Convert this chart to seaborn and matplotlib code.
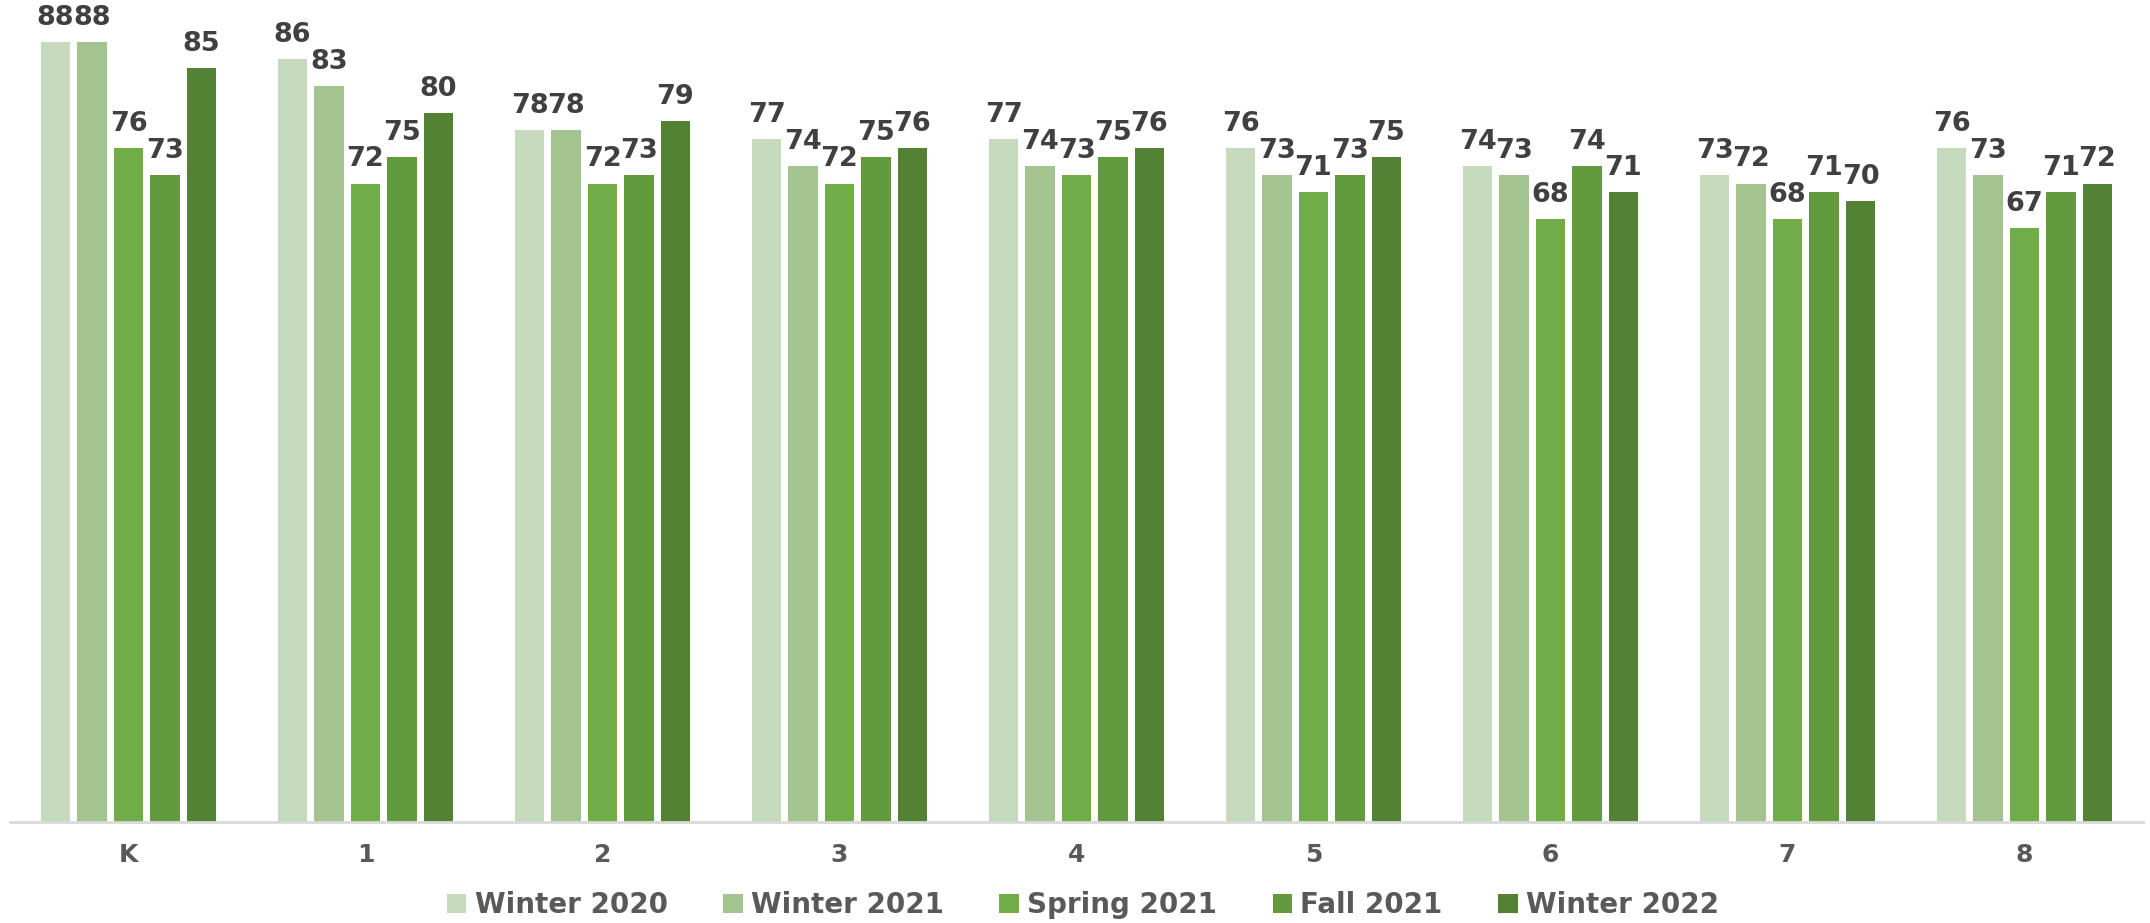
import matplotlib
matplotlib.use("Agg")
import matplotlib.pyplot as plt
import seaborn as sns
import pandas as pd

grades = ["K", "1", "2", "3", "4", "5", "6", "7", "8"]
seasons = ["Winter 2020", "Winter 2021", "Spring 2021", "Fall 2021", "Winter 2022"]

winter_2020 = [88, 86, 78, 77, 77, 76, 74, 73, 76]
winter_2021 = [88, 83, 78, 74, 74, 73, 73, 72, 73]
spring_2021 = [76, 72, 72, 72, 73, 71, 68, 68, 67]
fall_2021 = [73, 75, 73, 75, 75, 73, 74, 71, 71]
winter_2022 = [85, 80, 79, 76, 76, 75, 71, 70, 72]

palette = ["#C5D9BC", "#A3C48F", "#70AD47", "#629A3E", "#548235"]

series = [winter_2020, winter_2021, spring_2021, fall_2021, winter_2022]
rows = []
for season, vals in zip(seasons, series):
    for g, v in zip(grades, vals):
        rows.append({"Grade": g, "Season": season, "Score": v})
df = pd.DataFrame(rows)

sns.set_theme(style="white")
plt.rcParams["font.family"] = ["DejaVu Sans"]

fig = plt.figure(figsize=(21.5, 9.23), dpi=100)
ax = fig.add_axes([10 / 2150, 1 - 822 / 923, 2133 / 2150, 822 / 923])

sns.barplot(data=df, x="Grade", y="Score", hue="Season", hue_order=seasons,
            order=grades, palette=palette, width=0.77, gap=0.2,
            linewidth=0, saturation=1, ax=ax, legend=True)

for container in ax.containers:
    ax.bar_label(container, labels=[f"{v:.0f}" for v in container.datavalues],
                 padding=8, fontsize=19.5, fontweight="bold", color="#404040")

ax.set_xlim(-0.5, 8.5)
ax.set_ylim(0, 92.7)
ax.set_xlabel("")
ax.set_ylabel("")
ax.set_yticks([])
for side in ["top", "right", "left"]:
    ax.spines[side].set_visible(False)
ax.spines["bottom"].set_color("#D9D9D9")
ax.spines["bottom"].set_linewidth(2)
ax.tick_params(axis="x", length=0, pad=15, labelsize=18, labelcolor="#595959")
for lab in ax.get_xticklabels():
    lab.set_fontweight("bold")

handles, labels = ax.get_legend_handles_labels()
ax.legend_.remove()
leg = fig.legend(handles, labels, loc="center", bbox_to_anchor=(1083 / 2150, 1 - 905 / 923),
                 ncol=5, frameon=False, fontsize=20, labelcolor="#595959",
                 handlelength=0.7, handleheight=0.7, handletextpad=0.3,
                 columnspacing=2.0)
for t in leg.get_texts():
    t.set_fontweight("bold")

fig.savefig("out.png", dpi=100)
